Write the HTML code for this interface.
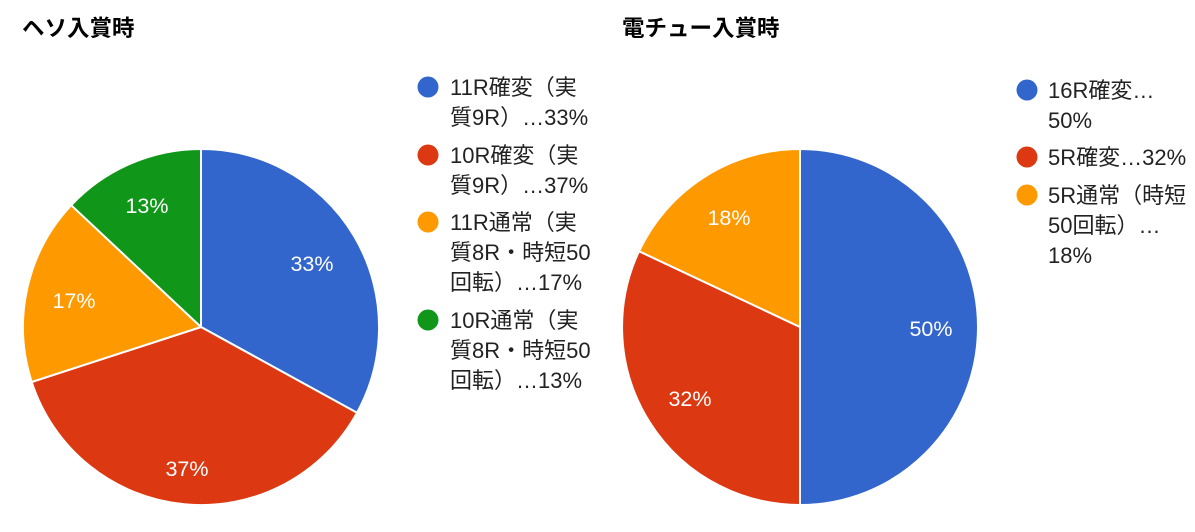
<!DOCTYPE html>
<html><head><meta charset="utf-8"><style>
body{margin:0;background:#fff;}
svg text{font-family:"Liberation Sans","Noto Sans CJK JP",sans-serif;}
</style></head><body>
<svg width="1195" height="527" viewBox="0 0 1195 527" xmlns="http://www.w3.org/2000/svg">
<rect width="1195" height="527" fill="#fff"/>
<text x="22" y="36" font-size="22.5" font-weight="bold" fill="#000">ヘソ入賞時</text>
<text x="622" y="36" font-size="22.5" font-weight="bold" fill="#000">電チュー入賞時</text>

<g stroke="#fff" stroke-width="2" stroke-linejoin="round">
<path d="M201,327 L201,149 A178,178 0 0 1 357,412.8 Z" fill="#3366cc"/>
<path d="M201,327 L357,412.8 A178,178 0 0 1 31.7,382 Z" fill="#dc3912"/>
<path d="M201,327 L31.7,382 A178,178 0 0 1 71.2,205.2 Z" fill="#ff9900"/>
<path d="M201,327 L71.2,205.2 A178,178 0 0 1 201,149 Z" fill="#109618"/>

<path d="M800,327 L800,149 A178,178 0 0 1 800,505 Z" fill="#3366cc"/>
<path d="M800,327 L800,505 A178,178 0 0 1 639,251.2 Z" fill="#dc3912"/>
<path d="M800,327 L639,251.2 A178,178 0 0 1 800,149 Z" fill="#ff9900"/>
</g>

<g font-size="21.5" fill="#fff" text-anchor="middle">
<text x="312" y="271">33%</text>
<text x="187" y="476">37%</text>
<text x="74" y="308">17%</text>
<text x="147" y="213">13%</text>
<text x="931" y="336">50%</text>
<text x="690" y="406">32%</text>
<text x="729" y="225">18%</text>
</g>

<g font-size="22" fill="#222">
<circle cx="428" cy="87" r="10.5" fill="#3366cc"/>
<text x="450" y="95">11R確変（実</text>
<text x="450" y="125">質9R）…33%</text>
<circle cx="428" cy="155" r="10.5" fill="#dc3912"/>
<text x="450" y="163">10R確変（実</text>
<text x="450" y="193">質9R）…37%</text>
<circle cx="428" cy="222" r="10.5" fill="#ff9900"/>
<text x="450" y="230">11R通常（実</text>
<text x="450" y="260">質8R・時短50</text>
<text x="450" y="290">回転）…17%</text>
<circle cx="428" cy="320" r="10.5" fill="#109618"/>
<text x="450" y="328">10R通常（実</text>
<text x="450" y="358">質8R・時短50</text>
<text x="450" y="388">回転）…13%</text>

<circle cx="1027" cy="90" r="10.5" fill="#3366cc"/>
<text x="1048" y="98">16R確変…</text>
<text x="1048" y="128">50%</text>
<circle cx="1027" cy="157" r="10.5" fill="#dc3912"/>
<text x="1048" y="165">5R確変…32%</text>
<circle cx="1027" cy="195" r="10.5" fill="#ff9900"/>
<text x="1048" y="203">5R通常（時短</text>
<text x="1048" y="233">50回転）…</text>
<text x="1048" y="263">18%</text>
</g>
</svg>
</body></html>
